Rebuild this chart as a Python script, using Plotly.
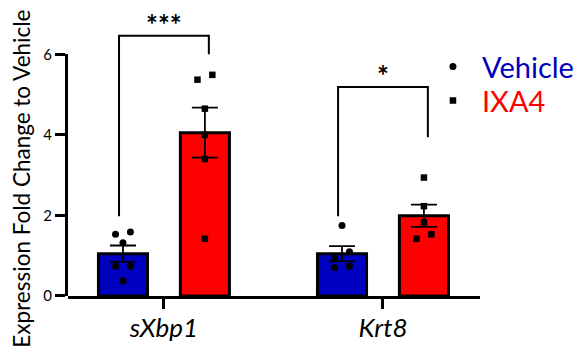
import numpy as np
import plotly.graph_objects as go

# ---- data ----
categories = ["sXbp1", "Krt8"]
groups = ["Vehicle", "IXA4"]

vehicle_sxbp1 = [1.53, 1.59, 1.32, 0.74, 0.74, 0.38]
ixa4_sxbp1 = [5.37, 5.49, 4.65, 4.00, 3.40, 1.42]
vehicle_krt8 = [1.75, 1.10, 0.94, 0.71, 0.74]
ixa4_krt8 = [2.94, 2.23, 1.83, 1.42, 1.53]

# horizontal jitter slot of each point (-1 left, 0 centre, 1 right)
jitter_vehicle_sxbp1 = [-1, 1, 0, -1, 1, 0]
jitter_ixa4_sxbp1 = [-1, 1, 0, 0, 0, 0]
jitter_vehicle_krt8 = [0, 1, -1, -1, 1]
jitter_ixa4_krt8 = [0, 0, 0, -1, 1]

y_ticks = [0, 2, 4, 6]
y_max = 7.0

sig_labels = ["***", "*"]
bracket_left_y = [1.98, 1.98]
bracket_right_y = [6.0, 3.94]
bracket_top_y = [6.46, 5.19]

# ---- styling ----
FONT = "Lato"
BLUE = "#0000C0"
RED = "#FF0000"
OFFSET = 0.187
BAR_W = 0.224
JIT = 0.034
BR_OFF = 0.205

vehicle_pts = [vehicle_sxbp1, vehicle_krt8]
ixa4_pts = [ixa4_sxbp1, ixa4_krt8]
vehicle_jit = [jitter_vehicle_sxbp1, jitter_vehicle_krt8]
ixa4_jit = [jitter_ixa4_sxbp1, jitter_ixa4_krt8]


def mean_sem(v):
    a = np.array(v, dtype=float)
    return a.mean(), a.std(ddof=1) / np.sqrt(len(a))


fig = go.Figure()

for gi, (pts, color, sign) in enumerate([(vehicle_pts, BLUE, -1), (ixa4_pts, RED, 1)]):
    xs = [ci + sign * OFFSET for ci in range(len(categories))]
    ms = [mean_sem(p) for p in pts]
    fig.add_trace(go.Bar(
        x=xs, y=[m for m, s in ms], width=BAR_W,
        marker=dict(color=color, line=dict(color="black", width=3)),
        error_y=dict(type="data", array=[s for m, s in ms], color="black",
                     thickness=1.8, width=13),
        showlegend=False, hoverinfo="skip",
    ))

leg_colors = [BLUE, RED]
symbols = ["circle", "square"]
sizes = [7, 6.5]
legend_ids = ["legend", "legend2"]
for gi, (pts, jits, sign) in enumerate([(vehicle_pts, vehicle_jit, -1), (ixa4_pts, ixa4_jit, 1)]):
    px, py = [], []
    for ci in range(len(categories)):
        for v, j in zip(pts[ci], jits[ci]):
            px.append(ci + sign * OFFSET + j * JIT)
            py.append(v)
    fig.add_trace(go.Scatter(
        x=px, y=py, mode="markers",
        marker=dict(symbol=symbols[gi], size=sizes[gi], color="black"),
        name=f"<span style='color:{leg_colors[gi]}'>{groups[gi]}</span>",
        legend=legend_ids[gi], cliponaxis=False,
    ))

# empty trace so that the visible value axis (y2, ending at the top tick) is drawn
fig.add_trace(go.Scatter(x=[], y=[], yaxis="y2", showlegend=False, hoverinfo="skip"))

shapes = []
annotations = []
for ci in range(len(categories)):
    xl, xr = ci - BR_OFF, ci + BR_OFF
    shapes.append(dict(type="path", xref="x", yref="y",
                       path=f"M {xl} {bracket_left_y[ci]} L {xl} {bracket_top_y[ci]} "
                            f"L {xr} {bracket_top_y[ci]} L {xr} {bracket_right_y[ci]}",
                       line=dict(color="black", width=2)))
    annotations.append(dict(x=ci, y=bracket_top_y[ci], xref="x", yref="y",
                            text=f"<b>{sig_labels[ci]}</b>", showarrow=False,
                            yanchor="bottom", yshift=-7,
                            font=dict(family=FONT, size=28, color="black")))

annotations.append(dict(x=-0.1117, y=0.416, xref="paper", yref="paper",
                        text="Expression Fold Change to Vehicle", textangle=-90,
                        showarrow=False, xanchor="center", yanchor="middle",
                        font=dict(family=FONT, size=22.5, color="black")))

legend_style = dict(xanchor="left", yanchor="top", font=dict(family=FONT, size=29),
                    bgcolor="rgba(0,0,0,0)", borderwidth=0, itemwidth=48)

fig.update_layout(
    template="none",
    width=581, height=356,
    margin=dict(l=68, r=101, t=14, b=60, pad=0, autoexpand=False),
    paper_bgcolor="white", plot_bgcolor="rgba(0,0,0,0)",
    font=dict(family=FONT, color="black"),
    shapes=shapes, annotations=annotations,
    showlegend=True,
    legend=dict(x=0.864, y=0.904, **legend_style),
    legend2=dict(x=0.864, y=0.783, **legend_style),
    xaxis=dict(range=[-0.438, 1.443], tickvals=list(range(len(categories))),
               ticktext=[f"<i>{c}</i>" for c in categories],
               ticks="outside", ticklen=10, tickwidth=3, tickcolor="black",
               showline=True, linewidth=3, linecolor="black",
               showgrid=False, zeroline=False, automargin=False,
               ticklabelstandoff=-3,
               tickfont=dict(family=FONT, size=26, color="black")),
    yaxis=dict(range=[0, y_max], showticklabels=False, ticks="", showline=False,
               showgrid=False, zeroline=False, automargin=False),
    yaxis2=dict(domain=[0, y_ticks[-1] / y_max], range=[0, y_ticks[-1]],
                anchor="x", tickvals=y_ticks, ticks="outside", ticklen=10,
                tickwidth=3, tickcolor="black", showline=True, linewidth=3,
                linecolor="black", showgrid=False, zeroline=False, automargin=False,
                tickfont=dict(family=FONT, size=15, color="black")),
)

fig.write_html("out.html", config={"displayModeBar": False},
               post_script="document.body.style.margin='0';")
